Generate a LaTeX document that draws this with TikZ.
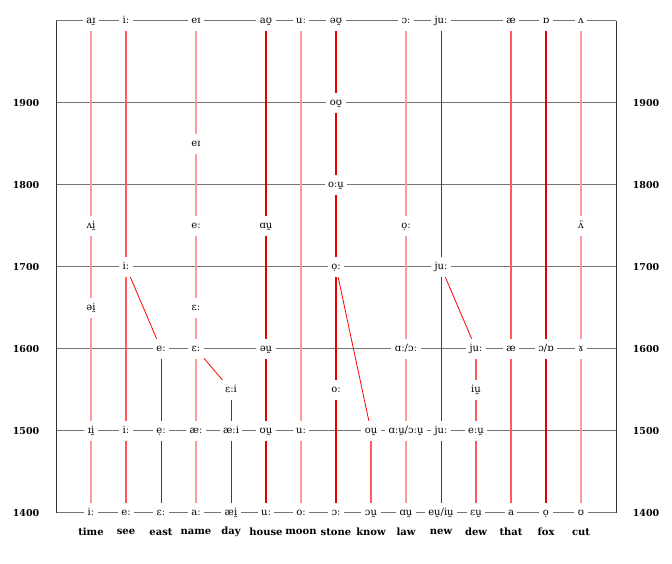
\documentclass[tikz,border=0pt]{standalone}
\usepackage{fontspec}
\setmainfont{DejaVu Serif}
\begin{document}
\begin{tikzpicture}[x=35pt, y=82pt,
    snd/.style={fill=white, inner xsep=3.5pt, inner ysep=5pt, text height=7.5pt, text depth=2.5pt, font=\fontsize{10}{12}\selectfont},
    wrd/.style={font=\fontsize{10}{12}\selectfont\bfseries},
    yr/.style={font=\fontsize{9.5}{11}\selectfont\bfseries},
    century/.style={black!55, line width=1pt},
    frame/.style={black!80, line width=0.9pt},
    pale/.style={red!40, line width=1.5pt},
    mid/.style={red!65, line width=1.2pt},
    strong/.style={red!90!black, line width=1.1pt},
    dark/.style={red!85!black, line width=1pt},
    merger/.style={red, line width=0.8pt}]

    \useasboundingbox (-1.6,-0.61) rectangle (17.6,6.256);

    % grid of centuries
    \foreach \k in {0,...,6}
        \draw[century] (0,\k) -- (16,\k);
    \draw[frame] (0,0) -- (0,6);
    \draw[frame] (16,0) -- (16,6);
    \foreach \k/\yr in {0/1400,1/1500,2/1600,3/1700,4/1800,5/1900} {
        \node[yr] (yl\yr) at (-0.857,\k) {\yr};
        \node[yr] (yr\yr) at (16.857,\k) {\yr};
    }

    % time
    \node[snd] (t2000) at (1,6) {aɪ̯};
    \node[snd] (t1750) at (1,3.5) {ʌi̯};
    \node[snd] (t1650) at (1,2.5) {əi̯};
    \node[snd] (t1500) at (1,1) {ɪi̯};
    \node[snd] (t1400) at (1,0) {iː};
    % see
    \node[snd] (s2000) at (2,6) {iː};
    \node[snd] (s1700) at (2,3) {iː};
    \node[snd] (s1500) at (2,1) {iː};
    \node[snd] (s1400) at (2,0) {eː};
    % east
    \node[snd] (e1600) at (3,2) {eː};
    \node[snd] (e1500) at (3,1) {ẹː};
    \node[snd] (e1400) at (3,0) {ɛː};
    % name
    \node[snd] (n2000) at (4,6) {eɪ};
    \node[snd] (n1850) at (4,4.5) {eɪ};
    \node[snd] (n1750) at (4,3.5) {eː};
    \node[snd] (n1650) at (4,2.5) {ɛː};
    \node[snd] (n1600) at (4,2) {ɛː};
    \node[snd] (n1500) at (4,1) {æː};
    \node[snd] (n1400) at (4,0) {aː};
    % day
    \node[snd] (d1550) at (5,1.5) {ɛːi};
    \node[snd] (d1500) at (5,1) {æːi};
    \node[snd] (d1400) at (5,0) {æi̯};
    % house
    \node[snd] (h2000) at (6,6) {aʊ̯};
    \node[snd] (h1750) at (6,3.5) {ɑu̯};
    \node[snd] (h1600) at (6,2) {əu̯};
    \node[snd] (h1500) at (6,1) {ʊu̯};
    \node[snd] (h1400) at (6,0) {uː};
    % moon
    \node[snd] (m2000) at (7,6) {uː};
    \node[snd] (m1500) at (7,1) {uː};
    \node[snd] (m1400) at (7,0) {oː};
    % stone
    \node[snd] (st2000) at (8,6) {əʊ̯};
    \node[snd] (st1900) at (8,5) {oʊ̯};
    \node[snd] (st1800) at (8,4) {oːu̯};
    \node[snd] (st1700) at (8,3) {ọː};
    \node[snd] (st1550) at (8,1.5) {oː};
    \node[snd] (st1400) at (8,0) {ɔː};
    % know
    \node[snd] (k1500) at (9,1) {ou̯};
    \node[snd] (k1400) at (9,0) {ɔu̯};
    % law
    \node[snd] (l2000) at (10,6) {ɔː};
    \node[snd] (l1750) at (10,3.5) {ọː};
    \node[snd] (l1600) at (10,2) {ɑː/ɔː};
    \node[snd] (l1500) at (10,1) {ɑːu̯/ɔːu̯};
    \node[snd] (l1400) at (10,0) {ɑu̯};
    % new
    \node[snd] (nw2000) at (11,6) {juː};
    \node[snd] (nw1700) at (11,3) {juː};
    \node[snd] (nw1500) at (11,1) {juː};
    \node[snd] (nw1400) at (11,0) {eu̯/iu̯};
    % dew
    \node[snd] (dw1600) at (12,2) {juː};
    \node[snd] (dw1550) at (12,1.5) {iu̯};
    \node[snd] (dw1500) at (12,1) {eːu̯};
    \node[snd] (dw1400) at (12,0) {ɛu̯};
    % that
    \node[snd] (th2000) at (13,6) {æ};
    \node[snd] (th1600) at (13,2) {æ};
    \node[snd] (th1400) at (13,0) {a};
    % fox
    \node[snd] (f2000) at (14,6) {ɒ};
    \node[snd] (f1600) at (14,2) {ɔ/ɒ};
    \node[snd] (f1400) at (14,0) {ọ};
    % cut
    \node[snd] (c2000) at (15,6) {ʌ};
    \node[snd] (c1750) at (15,3.5) {ʌ̈};
    \node[snd] (c1600) at (15,2) {ɤ};
    \node[snd] (c1400) at (15,0) {ʊ};

    % the words
    \foreach \w [count=\c] in {time,see,east,name,day,house,moon,stone,know,law,new,dew,that,fox,cut}
        \node[wrd] (w\w) at (\c,-0.23) {\w};

    % paths of the vowels
    \draw[pale] (t2000) -- (t1750) -- (t1650) -- (t1500) -- (t1400);
    \draw[mid] (s2000) -- (s1700) -- (s1500) -- (s1400);
    \draw[dark] (e1600) -- (e1500) -- (e1400);
    \draw[pale] (n2000) -- (n1850) -- (n1750) -- (n1650) -- (n1600) -- (n1500) -- (n1400);
    \draw[dark] (d1550) -- (d1500) -- (d1400);
    \draw[strong] (h2000) -- (h1750) -- (h1600) -- (h1500) -- (h1400);
    \draw[pale] (m2000) -- (m1500) -- (m1400);
    \draw[strong] (st2000) -- (st1900) -- (st1800) -- (st1700) -- (st1550) -- (st1400);
    \draw[mid] (k1500) -- (k1400);
    \draw[pale] (l2000) -- (l1750) -- (l1600) -- (l1500) -- (l1400);
    \draw[dark] (nw2000) -- (nw1700) -- (nw1500) -- (nw1400);
    \draw[mid] (dw1600) -- (dw1550) -- (dw1500) -- (dw1400);
    \draw[mid] (th2000) -- (th1600) -- (th1400);
    \draw[strong] (f2000) -- (f1600) -- (f1400);
    \draw[pale] (c2000) -- (c1750) -- (c1600) -- (c1400);

    % mergers
    \draw[merger] (s1700) -- (e1600);
    \draw[merger] (n1600) -- (d1550);
    \draw[merger] (st1700) -- (k1500);
    \draw[merger] (nw1700) -- (dw1600);
\end{tikzpicture}
\end{document}
